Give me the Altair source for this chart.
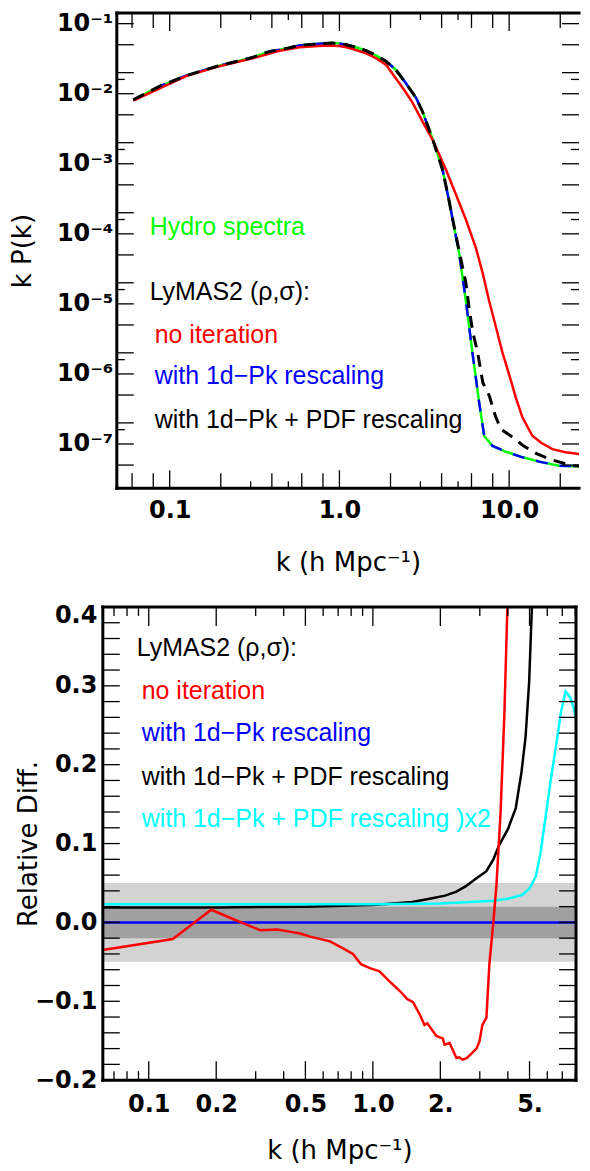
import altair as alt
import pandas as pd

# ---------------- Top panel: k P(k) ----------------
k_hydro = [0.061, 0.087, 0.125, 0.188, 0.25, 0.308, 0.387, 0.444, 0.50, 0.58, 0.70, 0.80, 0.90, 1.0, 1.1,
           1.25, 1.45, 1.65, 1.88, 2.15, 2.46, 2.83, 3.09, 3.54, 4.05, 4.44, 4.64, 5.08, 5.56, 6.08, 6.66,
           7.13, 7.98, 9.5, 12.0, 15.0, 19.7, 25.0, 29.15]
pk_hydro = [0.0082, 0.0127, 0.0181, 0.0245, 0.029, 0.033, 0.040, 0.0424, 0.045, 0.049, 0.051, 0.052, 0.053,
            0.052, 0.050, 0.046, 0.041, 0.035, 0.029, 0.022, 0.0142, 0.0087, 0.0055, 0.00226, 8.3e-4,
            2.86e-4, 1.64e-4, 5.2e-5, 1.11e-5, 2.0e-6, 3.9e-7, 1.3e-7, 9.4e-8, 7.8e-8, 6.45e-8, 5.6e-8,
            4.9e-8, 4.8e-8, 4.8e-8]

k_1dpk = [0.061, 0.087, 0.125, 0.188, 0.25, 0.308, 0.387, 0.444, 0.50, 0.58, 0.70, 0.80, 0.90, 1.0, 1.1,
          1.25, 1.45, 1.65, 1.88, 2.15, 2.46, 2.83, 3.09, 3.54, 4.05, 4.44, 4.64, 5.08, 5.56, 6.08, 6.66,
          7.13, 7.98, 9.5, 12.0, 15.0, 19.7, 25.0, 29.15]
pk_1dpk = [0.0082, 0.0127, 0.0181, 0.0245, 0.029, 0.033, 0.040, 0.0424, 0.045, 0.049, 0.051, 0.052, 0.053,
           0.052, 0.050, 0.046, 0.041, 0.035, 0.029, 0.022, 0.0142, 0.0087, 0.0055, 0.00226, 8.3e-4,
           2.86e-4, 1.64e-4, 5.2e-5, 1.11e-5, 2.0e-6, 3.9e-7, 1.3e-7, 9.4e-8, 7.8e-8, 6.45e-8, 5.6e-8,
           4.9e-8, 4.8e-8, 4.8e-8]

k_pdf = [0.061, 0.087, 0.125, 0.188, 0.25, 0.308, 0.387, 0.444, 0.50, 0.58, 0.70, 0.80, 0.90, 1.0, 1.1,
         1.25, 1.45, 1.65, 1.88, 2.15, 2.46, 2.83, 3.09, 3.54, 4.05, 4.44, 4.64, 5.08, 5.56, 5.82, 6.1,
         6.5, 7.0, 7.63, 8.3, 8.93, 10.0, 11.0, 12.0, 14.5, 17.2, 20.5, 23.5, 29.15]
pk_pdf = [0.0082, 0.0127, 0.0181, 0.0245, 0.029, 0.033, 0.040, 0.0424, 0.045, 0.049, 0.051, 0.052, 0.053,
          0.052, 0.050, 0.046, 0.041, 0.035, 0.029, 0.022, 0.0142, 0.0087, 0.0055, 0.00226, 8.3e-4,
          2.86e-4, 1.64e-4, 5.6e-5, 2.0e-5, 8.4e-6, 4.0e-6, 2.1e-6, 7.5e-7, 4.9e-7, 2.5e-7, 1.63e-7,
          1.35e-7, 1.15e-7, 9.6e-8, 7.3e-8, 6.1e-8, 5.4e-8, 4.9e-8, 4.8e-8]

k_noit = [0.061, 0.125, 0.188, 0.308, 0.444, 0.58, 0.75, 0.87, 1.0, 1.1, 1.25, 1.44, 1.65, 1.88, 2.25,
          2.46, 2.70, 3.09, 3.54, 4.24, 5.08, 5.56, 6.37, 6.97, 7.62, 8.3, 9.13, 10.0, 10.95, 11.97, 13.7,
          15.5, 18.0, 21.5, 25.7, 29.15]
pk_noit = [0.0080, 0.0178, 0.0240, 0.0320, 0.041, 0.046, 0.048, 0.0488, 0.048, 0.046, 0.042, 0.0376,
           0.032, 0.026, 0.0142, 0.0105, 0.0074, 0.0040, 0.0022, 8.3e-4, 2.77e-4, 1.6e-4, 6.3e-5, 2.8e-5,
           1.11e-5, 5.0e-6, 2.02e-6, 9.8e-7, 4.6e-7, 2.4e-7, 1.31e-7, 1.03e-7, 8.45e-8, 7.6e-8, 7.2e-8,
           7.4e-8]

# ---------------- Bottom panel: relative difference ----------------
k_rd_noit = [0.0624, 0.128, 0.19, 0.239, 0.315, 0.374, 0.43, 0.474, 0.525, 0.644, 0.736, 0.815, 0.885,
             0.97, 1.07, 1.19, 1.32, 1.42, 1.51, 1.62, 1.70, 1.75, 1.92, 2.05, 2.09, 2.20, 2.36, 2.43,
             2.51, 2.62, 2.76, 2.90, 2.99, 3.08, 3.21, 3.31, 3.45, 3.56, 3.71, 3.86, 3.98, 4.10]
rd_noit = [-0.035, -0.021, 0.016, 0.004, -0.010, -0.009, -0.012, -0.014, -0.018, -0.024, -0.033, -0.040,
           -0.053, -0.058, -0.062, -0.075, -0.087, -0.097, -0.101, -0.117, -0.130, -0.128, -0.144, -0.147,
           -0.155, -0.153, -0.172, -0.171, -0.174, -0.172, -0.166, -0.160, -0.151, -0.130, -0.121, -0.053,
           0.001, 0.048, 0.137, 0.263, 0.397, 0.52]

k_rd_1dpk = [0.0624, 8.06]
rd_1dpk = [0.0, 0.0]

k_rd_pdf = [0.0624, 0.2, 0.5, 1.0, 1.5, 1.79, 2.1, 2.36, 2.6, 2.9, 3.21, 3.45, 3.66, 4.0, 4.34, 4.6, 4.8,
            4.98, 5.12, 5.3]
rd_pdf = [0.019, 0.019, 0.020, 0.022, 0.026, 0.030, 0.034, 0.039, 0.046, 0.056, 0.065, 0.080, 0.098,
          0.118, 0.145, 0.19, 0.235, 0.305, 0.398, 0.6]

k_rd_pdf2 = [0.0624, 0.5, 1.0, 2.0, 3.31, 4.0, 4.65, 5.0, 5.33, 5.6, 5.91, 6.25, 6.55, 6.92, 7.25, 7.6,
             7.9, 8.06]
rd_pdf2 = [0.023, 0.023, 0.023, 0.024, 0.027, 0.030, 0.035, 0.043, 0.058, 0.088, 0.136, 0.185, 0.222,
           0.268, 0.293, 0.285, 0.270, 0.258]

band_outer = [-0.05, 0.05]
band_inner = [-0.02, 0.02]

# ---------------- axes ----------------
top_x_domain = [0.0488, 25.8]
top_y_domain = [2.34e-8, 0.142]
bot_x_domain = [0.0624, 8.06]
bot_y_domain = [-0.2, 0.4]

top_x_labels = [0.1, 1.0, 10.0]
top_y_labels = [1e-1, 1e-2, 1e-3, 1e-4, 1e-5, 1e-6, 1e-7]
top_y_label_text = ["10⁻¹", "10⁻²", "10⁻³", "10⁻⁴", "10⁻⁵", "10⁻⁶", "10⁻⁷"]
bot_x_labels = [0.1, 0.2, 0.5, 1.0, 2.0, 5.0]
bot_x_label_text = ["0.1", "0.2", "0.5", "1.0", "2.", "5."]
bot_y_labels = [-0.2, -0.1, 0.0, 0.1, 0.2, 0.3, 0.4]

# annotation texts
top_notes = ["Hydro spectra", "LyMAS2 (ρ,σ):", "no iteration", "with 1d−Pk rescaling",
             "with 1d−Pk + PDF rescaling"]
top_note_k = [0.0762, 0.0762, 0.0816, 0.0816, 0.0816]
top_note_v = [9.69e-5, 1.148e-5, 2.80e-6, 7.13e-7, 1.68e-7]
top_note_color = ["#00ff00", "black", "#ff0000", "#0000ff", "black"]

bot_notes = ["LyMAS2 (ρ,σ):", "no iteration", "with 1d−Pk rescaling", "with 1d−Pk + PDF rescaling",
             "with 1d−Pk + PDF rescaling )x2"]
bot_note_k = [0.0884, 0.093, 0.093, 0.093, 0.093]
bot_note_v = [0.338, 0.2835, 0.2304, 0.1747, 0.1215]
bot_note_color = ["black", "#ff0000", "#0000ff", "black", "#00ffff"]

# ---------------- geometry / style ----------------
TOP_W, TOP_H, TOP_X0 = 477, 476, 14
BOT_W, BOT_H = 474, 474
LABEL_FONT = "DejaVu Sans"
TEXT_FONT = "Liberation Sans"


def label_expr(values, texts):
    expr = "''"
    for v, t in reversed(list(zip(values, texts))):
        expr = f"abs(datum.value - {v!r}) < {abs(v) * 1e-6 + 1e-12!r} ? '{t}' : ({expr})"
    return expr


common_axis = dict(ticks=False, domain=False, grid=False, tickSize=0, labelFont=LABEL_FONT,
                   labelFontWeight="bold", labelFontSize=24, labelColor="black", labelOverlap=False,
                   labelFlush=False, titleFont=LABEL_FONT, titleFontSize=26, titleFontWeight="normal",
                   titleColor="black")

xs_top = alt.Scale(type="log", domain=top_x_domain, range=[TOP_X0, TOP_W], nice=False)
ys_top = alt.Scale(type="log", domain=top_y_domain, nice=False)
xs_bot = alt.Scale(type="log", domain=bot_x_domain, nice=False)
ys_bot = alt.Scale(type="linear", domain=bot_y_domain, nice=False, zero=False)

x_axis_top = alt.Axis(values=top_x_labels, format=".1f", labelPadding=10, title="k (h Mpc⁻¹)",
                      titleY=74, titleBaseline="middle", **common_axis)
y_axis_top = alt.Axis(values=top_y_labels, labelExpr=label_expr(top_y_labels, top_y_label_text),
                      offset=-TOP_X0, labelPadding=4, title="k P(k)", titleAngle=270,
                      titleBaseline="middle", titleAlign="center", titleX=-94, titleY=TOP_H / 2,
                      **common_axis)
x_axis_bot = alt.Axis(values=bot_x_labels, labelExpr=label_expr(bot_x_labels, bot_x_label_text),
                      labelPadding=12, title="k (h Mpc⁻¹)", titleY=70, titleBaseline="middle",
                      **common_axis)
y_axis_bot = alt.Axis(values=bot_y_labels, format=".1f", labelPadding=6, title="Relative Diff.",
                      titleAngle=270, titleBaseline="middle", titleAlign="center", titleX=-74,
                      titleY=BOT_H / 2,
                      labelBaseline={"condition": {"test": "datum.value > 0.35", "value": "top"},
                                     "value": "middle"},
                      labelOffset={"condition": {"test": "datum.value > 0.35", "value": -3},
                                   "value": 0},
                      **common_axis)

PANEL_AXES = {"top": (x_axis_top, y_axis_top), "bot": (x_axis_bot, y_axis_bot)}


def line(k, v, xs, ys, color, panel, width=2.5, dash=None):
    xa, ya = PANEL_AXES[panel]
    df = pd.DataFrame({"k": k, "v": v})
    kw = dict(color=color, strokeWidth=width, clip=True)
    if dash is not None:
        kw["strokeDash"] = dash
    return alt.Chart(df).mark_line(**kw).encode(
        x=alt.X("k:Q", scale=xs, axis=xa),
        y=alt.Y("v:Q", scale=ys, axis=ya),
        order=alt.Order("k:Q"),
    )


def xticks(vals, xs, H, L, panel):
    xa, _ = PANEL_AXES[panel]
    df = pd.DataFrame({"t": vals})
    base = alt.Chart(df).mark_rule(color="black", strokeWidth=1.3)
    return (base.encode(x=alt.X("t:Q", scale=xs, axis=xa), y=alt.value(H), y2=alt.value(H - L)) +
            base.encode(x=alt.X("t:Q", scale=xs, axis=xa), y=alt.value(0), y2=alt.value(L)))


def yticks(vals, ys, x0, x1, L, panel):
    _, ya = PANEL_AXES[panel]
    df = pd.DataFrame({"t": vals})
    base = alt.Chart(df).mark_rule(color="black", strokeWidth=1.3)
    return (base.encode(y=alt.Y("t:Q", scale=ys, axis=ya), x=alt.value(x0), x2=alt.value(x0 + L)) +
            base.encode(y=alt.Y("t:Q", scale=ys, axis=ya), x=alt.value(x1), x2=alt.value(x1 - L)))


def frame(x0, x1, H, right=True):
    one = pd.DataFrame({"a": [0]})
    base = alt.Chart(one).mark_rule(color="black", strokeWidth=3, strokeCap="square")
    parts = [
        base.encode(x=alt.value(x0), x2=alt.value(x1), y=alt.value(0)),
        base.encode(x=alt.value(x0), x2=alt.value(x1), y=alt.value(H)),
        base.encode(x=alt.value(x0), y=alt.value(0), y2=alt.value(H)),
    ]
    if right:
        parts.append(base.encode(x=alt.value(x1), y=alt.value(0), y2=alt.value(H)))
    return alt.layer(*parts)


def notes(texts, ks, vs, colors, xs, ys, panel):
    xa, ya = PANEL_AXES[panel]
    df = pd.DataFrame({"k": ks, "v": vs, "text": texts, "c": colors})
    return alt.Chart(df).mark_text(align="left", baseline="alphabetic", font=TEXT_FONT,
                                   fontSize=25).encode(
        x=alt.X("k:Q", scale=xs, axis=xa),
        y=alt.Y("v:Q", scale=ys, axis=ya),
        text="text:N",
        color=alt.Color("c:N", scale=None),
    )


# tick positions (axis decoration)
top_xt_dec = [0.1, 1.0, 10.0]
top_xt_even = [0.06, 0.08, 0.2, 0.4, 0.6, 0.8, 2, 4, 6, 8, 20]
top_xt_odd = [0.3, 0.5, 3, 5]
top_yt_main = [m * 10.0 ** e for e in range(-8, 0) for m in (1, 2, 5)
               if top_y_domain[0] < m * 10.0 ** e < top_y_domain[1]]
top_yt_short = [1.6 * 10.0 ** e for e in range(-8, 0)
                if top_y_domain[0] < 1.6 * 10.0 ** e < top_y_domain[1]]
bot_xt_major = [0.1, 0.2, 0.5, 1.0, 2.0, 5.0]
bot_xt_minor = [0.07, 0.08, 0.09, 0.3, 0.4, 0.6, 0.7, 0.8, 0.9, 3, 4, 6, 7, 8]
bot_yt = [round(-0.2 + 0.02 * i, 2) for i in range(1, 30)]

top = alt.layer(
    line(k_hydro, pk_hydro, xs_top, ys_top, "#00ff00", "top"),
    line(k_1dpk, pk_1dpk, xs_top, ys_top, "#0000ff", "top", dash=[12, 12]),
    line(k_noit, pk_noit, xs_top, ys_top, "#ff0000", "top"),
    line(k_pdf, pk_pdf, xs_top, ys_top, "black", "top", width=3, dash=[12, 8]),
    xticks(top_xt_dec, xs_top, TOP_H, 18, "top"),
    xticks(top_xt_even, xs_top, TOP_H, 15, "top"),
    xticks(top_xt_odd, xs_top, TOP_H, 7, "top"),
    yticks(top_yt_main, ys_top, TOP_X0, TOP_W, 17, "top"),
    yticks(top_yt_short, ys_top, TOP_X0, TOP_W, 8, "top"),
    frame(TOP_X0, TOP_W, TOP_H, right=False),
    notes(top_notes, top_note_k, top_note_v, top_note_color, xs_top, ys_top, "top"),
).properties(width=TOP_W, height=TOP_H)

bands = []
for rng, col in ((band_outer, "#d3d3d3"), (band_inner, "#a0a0a0")):
    bdf = pd.DataFrame({"k0": [bot_x_domain[0]], "k1": [bot_x_domain[1]], "v0": [rng[0]], "v1": [rng[1]]})
    bands.append(alt.Chart(bdf).mark_rect(color=col).encode(
        x=alt.X("k0:Q", scale=xs_bot, axis=x_axis_bot), x2="k1:Q",
        y=alt.Y("v0:Q", scale=ys_bot, axis=y_axis_bot), y2="v1:Q"))

bottom = alt.layer(
    *bands,
    line(k_rd_1dpk, rd_1dpk, xs_bot, ys_bot, "#0000ff", "bot"),
    line(k_rd_pdf, rd_pdf, xs_bot, ys_bot, "black", "bot"),
    line(k_rd_pdf2, rd_pdf2, xs_bot, ys_bot, "#00ffff", "bot"),
    line(k_rd_noit, rd_noit, xs_bot, ys_bot, "#ff0000", "bot"),
    xticks(bot_xt_major, xs_bot, BOT_H, 19, "bot"),
    xticks(bot_xt_minor, xs_bot, BOT_H, 9, "bot"),
    yticks(bot_yt, ys_bot, 0, BOT_W, 17, "bot"),
    frame(0, BOT_W, BOT_H),
    notes(bot_notes, bot_note_k, bot_note_v, bot_note_color, xs_bot, ys_bot, "bot"),
).properties(width=BOT_W, height=BOT_H)

chart = alt.vconcat(
    top, bottom, spacing=119, bounds="flush",
    padding={"left": 2, "top": 1, "right": 0, "bottom": 0},
    background="white",
).configure_view(strokeWidth=0)

chart.save("out.html", embed_options={"renderer": "svg", "actions": False})
